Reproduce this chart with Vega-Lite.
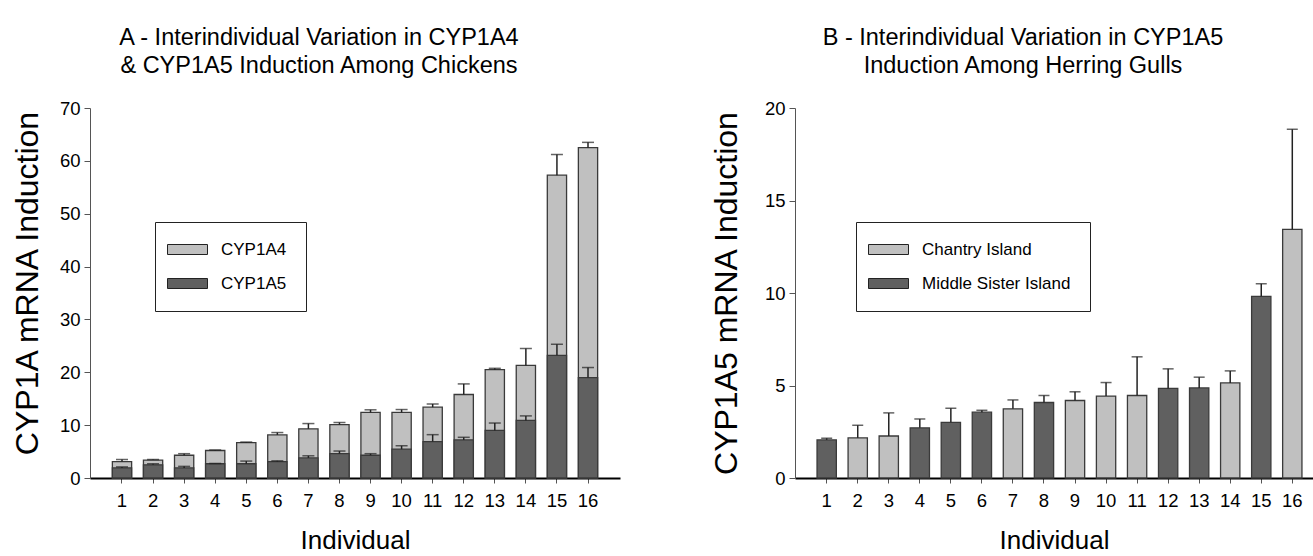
{
  "$schema": "https://vega.github.io/schema/vega-lite/v6.json",
  "background": "white",
  "padding": {"left": 11, "top": 25, "right": 0, "bottom": 0},
  "bounds": "flush",
  "spacing": 175,
  "resolve": {
    "scale": {"x": "independent", "y": "independent", "fill": "independent"},
    "legend": {"fill": "independent"}
  },
  "config": {
    "view": {"stroke": null},
    "font": "Liberation Sans",
    "axis": {"grid": false, "labelColor": "black", "titleColor": "black", "titleFontWeight": "normal", "labelFont": "Liberation Sans", "labelFontSize": 18.5},
    "title": {"color": "black", "fontWeight": "normal"}
  },
  "hconcat": [
    {
      "width": 530,
      "height": 370,
      "title": {
        "text": ["A - Interindividual Variation in CYP1A4", "& CYP1A5 Induction Among Chickens"],
        "font": "Liberation Sans",
        "fontSize": 23.5,
        "lineHeight": 28,
        "anchor": "middle",
        "dx": -36,
        "offset": 22
      },
      "data": {
        "values": [
          {"ind": 1, "gene": "CYP1A4", "value": 3.1, "upper": 3.5},
          {"ind": 2, "gene": "CYP1A4", "value": 3.4, "upper": 3.5},
          {"ind": 3, "gene": "CYP1A4", "value": 4.3, "upper": 4.6},
          {"ind": 4, "gene": "CYP1A4", "value": 5.2, "upper": 5.3},
          {"ind": 5, "gene": "CYP1A4", "value": 6.7, "upper": 6.8},
          {"ind": 6, "gene": "CYP1A4", "value": 8.15, "upper": 8.6},
          {"ind": 7, "gene": "CYP1A4", "value": 9.3, "upper": 10.3},
          {"ind": 8, "gene": "CYP1A4", "value": 10.1, "upper": 10.5},
          {"ind": 9, "gene": "CYP1A4", "value": 12.4, "upper": 12.9},
          {"ind": 10, "gene": "CYP1A4", "value": 12.4, "upper": 12.95},
          {"ind": 11, "gene": "CYP1A4", "value": 13.4, "upper": 14.0},
          {"ind": 12, "gene": "CYP1A4", "value": 15.8, "upper": 17.8},
          {"ind": 13, "gene": "CYP1A4", "value": 20.5, "upper": 20.75},
          {"ind": 14, "gene": "CYP1A4", "value": 21.3, "upper": 24.5},
          {"ind": 15, "gene": "CYP1A4", "value": 57.3, "upper": 61.2},
          {"ind": 16, "gene": "CYP1A4", "value": 62.5, "upper": 63.5},
          {"ind": 1, "gene": "CYP1A5", "value": 1.9, "upper": 2.1},
          {"ind": 2, "gene": "CYP1A5", "value": 2.5, "upper": 2.7},
          {"ind": 3, "gene": "CYP1A5", "value": 1.9, "upper": 2.2},
          {"ind": 4, "gene": "CYP1A5", "value": 2.7, "upper": 2.75},
          {"ind": 5, "gene": "CYP1A5", "value": 2.7, "upper": 3.2},
          {"ind": 6, "gene": "CYP1A5", "value": 3.1, "upper": 3.25},
          {"ind": 7, "gene": "CYP1A5", "value": 3.8, "upper": 4.2},
          {"ind": 8, "gene": "CYP1A5", "value": 4.6, "upper": 5.1},
          {"ind": 9, "gene": "CYP1A5", "value": 4.3, "upper": 4.6},
          {"ind": 10, "gene": "CYP1A5", "value": 5.45, "upper": 6.1},
          {"ind": 11, "gene": "CYP1A5", "value": 6.9, "upper": 8.2},
          {"ind": 12, "gene": "CYP1A5", "value": 7.2, "upper": 7.7},
          {"ind": 13, "gene": "CYP1A5", "value": 9.0, "upper": 10.4},
          {"ind": 14, "gene": "CYP1A5", "value": 10.9, "upper": 11.75},
          {"ind": 15, "gene": "CYP1A5", "value": 23.2, "upper": 25.3},
          {"ind": 16, "gene": "CYP1A5", "value": 19.0, "upper": 20.9}
        ]
      },
      "encoding": {
        "x": {
          "field": "ind", "type": "ordinal", "title": "Individual",
          "scale": {"paddingInner": 0.38, "paddingOuter": 0.72},
          "axis": {"labelAngle": 0, "tickSize": 5, "tickColor": "#555", "domainColor": "black", "domainWidth": 2, "labelPadding": 8, "titleFont": "Liberation Sans", "titleFontSize": 26, "titlePadding": 18}
        }
      },
      "layer": [
        {
          "mark": {"type": "bar", "stroke": "#3a3a3a", "strokeWidth": 1.3},
          "encoding": {
            "y": {"field": "value", "type": "quantitative", "stack": null, "title": "CYP1A mRNA Induction",
              "scale": {"domain": [0, 70], "nice": false},
              "axis": {"values": [0, 10, 20, 30, 40, 50, 60, 70], "tickSize": 6, "tickColor": "#555", "domainColor": "#555", "labelPadding": 4, "titleFontSize": 32, "titlePadding": 15, "titleY": 175}},
            "fill": {"field": "gene", "type": "nominal",
              "scale": {"domain": ["CYP1A4", "CYP1A5"], "range": ["#c0c0c0", "#606060"]},
              "legend": {"title": null, "orient": "none", "legendX": 65, "legendY": 114, "symbolType": "M-3,-1H5V1H-3Z", "symbolSize": 100, "symbolStrokeColor": "#222", "symbolStrokeWidth": 1, "labelFontSize": 17, "labelColor": "black", "strokeColor": "#222", "fillColor": "white", "padding": 19, "rowPadding": 16, "labelOffset": 30}}
          }
        },
        {
          "mark": {"type": "rule", "color": "#222", "strokeWidth": 1.5},
          "encoding": {"y": {"field": "value", "type": "quantitative", "title": "CYP1A mRNA Induction"}, "y2": {"field": "upper"}}
        },
        {
          "mark": {"type": "tick", "color": "#222", "thickness": 1.5, "size": 12, "orient": "horizontal"},
          "encoding": {"y": {"field": "upper", "type": "quantitative", "title": "CYP1A mRNA Induction"}}
        }
      ]
    },
    {
      "width": 518,
      "height": 370,
      "title": {
        "text": ["B - Interindividual Variation in CYP1A5", "Induction Among Herring Gulls"],
        "font": "Liberation Sans",
        "fontSize": 23.5,
        "lineHeight": 28,
        "anchor": "middle",
        "dx": -31,
        "offset": 22
      },
      "data": {
        "values": [
          {"ind": 1, "site": "Middle Sister Island", "value": 2.06, "upper": 2.15},
          {"ind": 2, "site": "Chantry Island", "value": 2.17, "upper": 2.85},
          {"ind": 3, "site": "Chantry Island", "value": 2.27, "upper": 3.52},
          {"ind": 4, "site": "Middle Sister Island", "value": 2.71, "upper": 3.19},
          {"ind": 5, "site": "Middle Sister Island", "value": 3.01, "upper": 3.77},
          {"ind": 6, "site": "Middle Sister Island", "value": 3.56, "upper": 3.66},
          {"ind": 7, "site": "Chantry Island", "value": 3.74, "upper": 4.22},
          {"ind": 8, "site": "Middle Sister Island", "value": 4.08, "upper": 4.46},
          {"ind": 9, "site": "Chantry Island", "value": 4.19, "upper": 4.66},
          {"ind": 10, "site": "Chantry Island", "value": 4.43, "upper": 5.16},
          {"ind": 11, "site": "Chantry Island", "value": 4.46, "upper": 6.55},
          {"ind": 12, "site": "Middle Sister Island", "value": 4.84, "upper": 5.9},
          {"ind": 13, "site": "Middle Sister Island", "value": 4.87, "upper": 5.45},
          {"ind": 14, "site": "Chantry Island", "value": 5.14, "upper": 5.79},
          {"ind": 15, "site": "Middle Sister Island", "value": 9.82, "upper": 10.5},
          {"ind": 16, "site": "Chantry Island", "value": 13.44, "upper": 18.85}
        ]
      },
      "encoding": {
        "x": {
          "field": "ind", "type": "ordinal", "title": "Individual",
          "scale": {"paddingInner": 0.378, "paddingOuter": 0.533, "align": 0.666},
          "axis": {"labelAngle": 0, "tickSize": 5, "tickColor": "#555", "domainColor": "black", "domainWidth": 2, "labelPadding": 8, "titleFont": "Liberation Sans", "titleFontSize": 26, "titlePadding": 18}
        }
      },
      "layer": [
        {
          "mark": {"type": "bar", "stroke": "#3a3a3a", "strokeWidth": 1.3},
          "encoding": {
            "y": {"field": "value", "type": "quantitative", "title": "CYP1A5 mRNA Induction",
              "scale": {"domain": [0, 20], "nice": false},
              "axis": {"values": [0, 5, 10, 15, 20], "tickSize": 6, "tickColor": "#555", "domainColor": "#555", "labelPadding": 4, "titleFontSize": 32, "titlePadding": 21}},
            "fill": {"field": "site", "type": "nominal",
              "scale": {"domain": ["Chantry Island", "Middle Sister Island"], "range": ["#c0c0c0", "#606060"]},
              "legend": {"title": null, "orient": "none", "legendX": 61, "legendY": 114, "symbolType": "M-3,-1H5V1H-3Z", "symbolSize": 100, "symbolStrokeColor": "#222", "symbolStrokeWidth": 1, "labelFontSize": 17, "labelColor": "black", "strokeColor": "#222", "fillColor": "white", "padding": 19, "rowPadding": 16, "labelOffset": 30}}
          }
        },
        {
          "mark": {"type": "rule", "color": "#222", "strokeWidth": 1.5},
          "encoding": {"y": {"field": "value", "type": "quantitative", "title": "CYP1A5 mRNA Induction"}, "y2": {"field": "upper"}}
        },
        {
          "mark": {"type": "tick", "color": "#222", "thickness": 1.5, "size": 11, "orient": "horizontal"},
          "encoding": {"y": {"field": "upper", "type": "quantitative", "title": "CYP1A5 mRNA Induction"}}
        }
      ]
    }
  ]
}
